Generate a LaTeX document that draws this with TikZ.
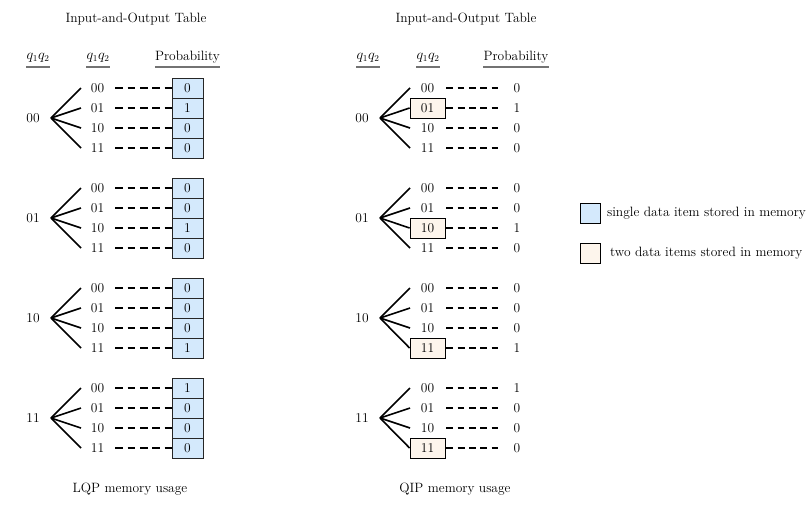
\documentclass[tikz,border=0pt]{standalone}
\usepackage{tikz}
\definecolor{lqpblue}{RGB}{212,233,252}
\definecolor{qipbeige}{RGB}{253,245,236}
\begin{document}
\begin{tikzpicture}[x=1pt,y=-1pt,font=\fontsize{13.5}{16}\selectfont,
  txt/.style={inner sep=0pt,anchor=center},
  fan/.style={line width=1.6pt},
  dashL/.style={line width=1.8pt,dash pattern=on 7.6pt off 4.75pt},
  dashR/.style={line width=1.8pt,dash pattern=on 6.8pt off 4.5pt},
  uline/.style={draw=black!55,line width=1.2pt},
  lqpcell/.style={draw=black!85,line width=0.8pt,fill=lqpblue,minimum width=31pt,minimum height=20pt,inner sep=0pt},
  qipcell/.style={draw=black,line width=0.8pt,fill=qipbeige,minimum width=35pt,minimum height=20pt,inner sep=0pt},
  legbox/.style={draw=black,line width=0.8pt,minimum width=20pt,minimum height=20pt,inner sep=0pt}]
\useasboundingbox (0,0) rectangle (810,512);
\coordinate (ul) at (0,67);
% titles
\node[txt] (T1) at (136,19) {Input-and-Output Table};
\node[txt] (T2) at (466,19) {Input-and-Output Table};
% headers
\node[txt] (H1) at (38,58) {$q_1q_2$};
\node[txt] (H2) at (98,58) {$q_1q_2$};
\node[txt] (H3) at (187.5,57) {Probability};
\node[txt] (H4) at (368,58) {$q_1q_2$};
\node[txt] (H5) at (428,58) {$q_1q_2$};
\node[txt] (H6) at (516,57) {Probability};
\foreach \h in {H1,H2,H3,H4,H5,H6}{
  \draw[uline] (\h.west |- ul) -- (\h.east |- ul);
}
% groups
\foreach \g/\rt/\one/\bx in {1/00/2/2,2/01/3/3,3/10/4/4,4/11/1/4}{
  \pgfmathsetmacro\yc{118+100*(\g-1)}
  % left panel
  \node[txt] (Lr\g) at (33,\yc) {\rt};
  \coordinate (Lf\g) at (51,\yc);
  % right panel
  \node[txt] (Rr\g) at (362,\yc) {\rt};
  \coordinate (Rf\g) at (380,\yc);
  \foreach \lab/\k in {00/1,01/2,10/3,11/4}{
    \pgfmathsetmacro\yy{\yc+20*(\k-2.5)}
    \pgfmathtruncatemacro\pv{(\k==\one)?1:0}
    % left
    \node[txt] (Ll\g\k) at (97.5,\yy) {\lab};
    \coordinate (Le\g\k) at (81,\yy);
    \draw[fan] (Lf\g) -- (Le\g\k);
    \node[lqpcell] (Lc\g\k) at (187.5,\yy) {\pv};
    \draw[dashL] ([xshift=11pt]Ll\g\k.east) -- (Lc\g\k.west);
    % right
    \ifnum\k=\bx
      \node[qipcell] (Rl\g\k) at (427.5,\yy) {\lab};
      \draw[fan] (Rf\g) -- (Rl\g\k.west);
      \draw[dashR] ([xshift=1pt]Rl\g\k.east) -- ++(52,0) coordinate (Rd\g\k);
    \else
      \node[txt] (Rl\g\k) at (427.5,\yy) {\lab};
      \coordinate (Re\g\k) at (410,\yy);
      \draw[fan] (Rf\g) -- (Re\g\k);
      \draw[dashR] ([xshift=12pt]Rl\g\k.east) -- ++(52,0) coordinate (Rd\g\k);
    \fi
    \node[txt,anchor=west] (Rp\g\k) at ([xshift=15pt]Rd\g\k) {\pv};
  }
}
% captions
\node[txt] (C1) at (130,489) {LQP memory usage};
\node[txt] (C2) at (455,489) {QIP memory usage};
% legend
\node[legbox,fill=lqpblue] (LB1) at (590.5,213) {};
\node[txt,anchor=west] (LT1) at ([xshift=6pt]LB1.east) {single data item stored in memory};
\node[legbox,fill=qipbeige] (LB2) at (590.5,253) {};
\node[txt,anchor=west] (LT2) at ([xshift=9pt]LB2.east) {two data items stored in memory};
\end{tikzpicture}
\end{document}
